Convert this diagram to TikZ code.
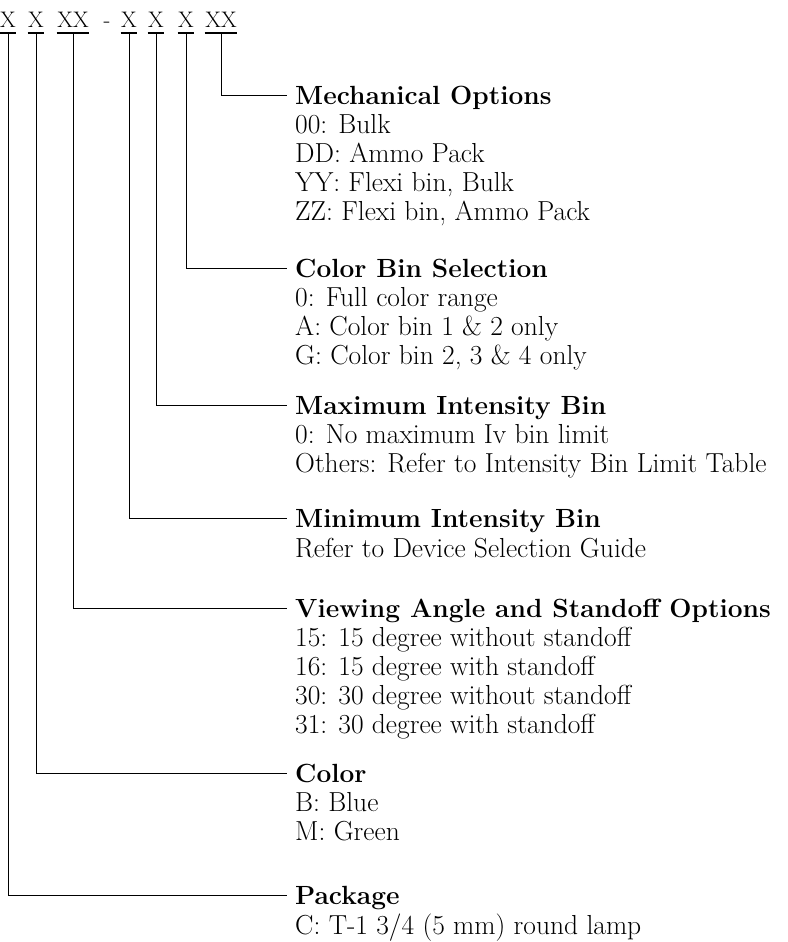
\documentclass[tikz,border=0pt]{standalone}
\usepackage{tikz}
\usetikzlibrary{positioning}

\begin{document}
\begin{tikzpicture}[
      x=1pt, y=1pt,
      code/.style={inner xsep=0.5pt, inner ysep=0pt, text depth=4.5pt, anchor=base, font=\fontsize{22.5}{24}\selectfont},
      head/.style={anchor=west, inner xsep=8pt, inner ysep=0pt, text height=18pt, text depth=0pt, font=\fontsize{26.3}{29}\selectfont\bfseries},
      items/.style={anchor=north west, inner xsep=8pt, inner ysep=0pt, align=left, execute at begin node=\strut, font=\fontsize{27.5}{29}\selectfont},
      uline/.style={line width=1.8pt},
      wire/.style={line width=0.8pt}
    ]
    \useasboundingbox (0,0) rectangle (787,-942);

    % part number
    \foreach \n/\x/\t in {c1/8/X, c2/36/X, c3/73/XX, c4/129/X, c5/156/X, c6/186/X, c7/221/XX} {
      \node[code] (\n) at (\x,-28) {\t};
      \draw[uline] (\n.south west) -- (\n.south east);
    }
    \node[code] (dash) at (107,-28) {-};

    % option headings
    \node[head] (mech) at (287,-95) {Mechanical Options};
    \node[items] (mechitems) at ([yshift=-9.7pt]mech.south west) {00: Bulk\\DD: Ammo Pack\\YY: Flexi bin, Bulk\\ZZ: Flexi bin, Ammo Pack};

    \node[head] (cbin) at (287,-268) {Color Bin Selection};
    \node[items] (cbinitems) at ([yshift=-9.7pt]cbin.south west) {0: Full color range\\A: Color bin 1 \& 2 only\\G: Color bin 2, 3 \& 4 only};

    \node[head] (maxi) at (287,-405) {Maximum Intensity Bin};
    \node[items] (maxiitems) at ([yshift=-9.7pt]maxi.south west) {0: No maximum Iv bin limit\\Others: Refer to Intensity Bin Limit Table};

    \node[head] (mini) at (287,-518) {Minimum Intensity Bin};
    \node[items] (miniitems) at ([yshift=-9.7pt]mini.south west) {Refer to Device Selection Guide};

    \node[head] (view) at (287,-608) {Viewing Angle and Standoff Options};
    \node[items] (viewitems) at ([yshift=-9.7pt]view.south west) {15: 15 degree without standoff\\16: 15 degree with standoff\\30: 30 degree without standoff\\31: 30 degree with standoff};

    \node[head] (col) at (287,-773) {Color};
    \node[items] (colitems) at ([yshift=-9.7pt]col.south west) {B: Blue\\M: Green};

    \node[head] (pkg) at (287,-895) {Package};
    \node[items] (pkgitems) at ([yshift=-9.7pt]pkg.south west) {C: T-1 3/4 (5 mm) round lamp};

    % leaders
    \draw[wire] (c7.south) |- (mech.west);
    \draw[wire] (c6.south) |- (cbin.west);
    \draw[wire] (c5.south) |- (maxi.west);
    \draw[wire] (c4.south) |- (mini.west);
    \draw[wire] (c3.south) |- (view.west);
    \draw[wire] (c2.south) |- (col.west);
    \draw[wire] (c1.south) |- (pkg.west);
  \end{tikzpicture}
\end{document}
